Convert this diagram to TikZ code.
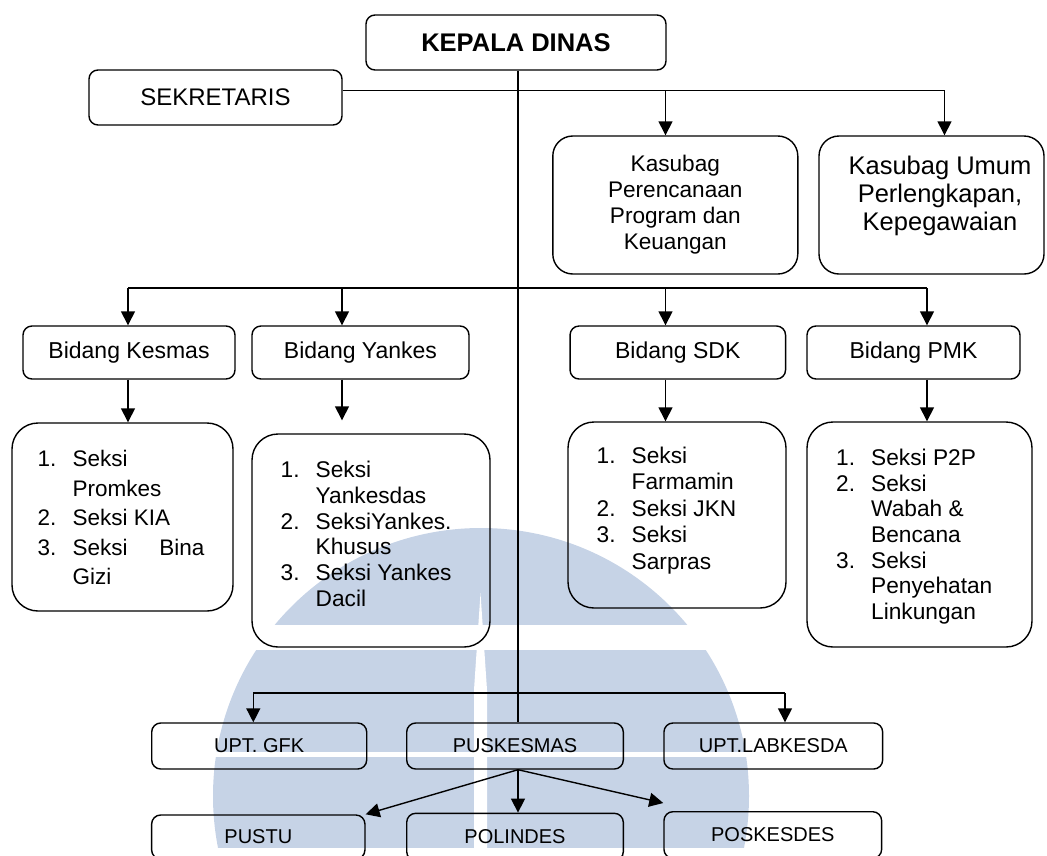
\documentclass[tikz,border=0pt]{standalone}
\usepackage{fontspec}
\setmainfont{Liberation Sans}
\usetikzlibrary{arrows.meta,calc}
\definecolor{wmblue}{RGB}{198,211,230}
% numbered list line: fixed-width number column, then the text
\newcommand\li[2]{\makebox[35pt][l]{#1}#2}

\begin{document}
\begin{tikzpicture}[x=1pt,y=-1pt,
  line width=1.4pt,
  box/.style={draw, rounded corners=9pt, inner sep=0pt},
  bigbox/.style={draw, rounded corners=20pt, inner sep=0pt},
  listbox/.style={draw, rounded corners=26pt, inner sep=0pt},
  listtext/.style={anchor=north west, inner sep=0pt, align=left},
  bidfont/.style={font=\fontsize{23}{27}\selectfont},
  uptfont/.style={font=\fontsize{20}{24}\selectfont},
  arr/.style={-{Triangle[length=14pt,width=14pt]}},
]
\useasboundingbox (0,0) rectangle (1047,855);
\clip (0,0) rectangle (1047,855);

% faint logo in the background
\begin{scope}
  \clip (481,796) circle[radius=268pt];
  \fill[wmblue] (150,528) rectangle (800,625);
  \fill[wmblue] (150,650) rectangle (800,752);
  \fill[wmblue] (150,757) rectangle (800,848);
\end{scope}
\fill[white] (480.5,593) -- (474,690) -- (474,855) -- (487,855) -- (487,690) -- cycle;

% top level
\node[box, minimum width=300pt, minimum height=55pt,
      font=\fontsize{25.5}{30}\selectfont\bfseries] (kepala) at (516,42.5) {KEPALA DINAS};
\node[box, minimum width=253pt, minimum height=55pt,
      font=\fontsize{24}{28}\selectfont] (sek) at (215.5,97.5) {SEKRETARIS};

% sub-sections under the secretary
\node[bigbox, minimum width=245pt, minimum height=138pt, align=center,
      font=\fontsize{22.6}{26}\selectfont] (kasper) at (675.3,205)
      {Kasubag\\Perencanaan\\Program dan\\Keuangan};
\node[bigbox, minimum width=225pt, minimum height=138pt] (kasum) at (931.5,205) {};
\node[align=center, inner sep=0pt, font=\fontsize{25.5}{28}\selectfont] (kasumtext) at (940,196)
      {Kasubag Umum\\Perlengkapan,\\Kepegawaian};

% divisions
\node[box, minimum width=212pt, minimum height=53pt, bidfont] (bkes) at (129,352.5) {Bidang Kesmas};
\node[box, minimum width=217pt, minimum height=53pt, bidfont] (byan) at (360.5,352.5) {Bidang Yankes};
\node[box, minimum width=215.5pt, minimum height=53pt, bidfont] (bsdk) at (677.8,352.5) {Bidang SDK};
\node[box, minimum width=213pt, minimum height=53pt, bidfont] (bpmk) at (913.5,352.5) {Bidang PMK};

% sections of each division
\node[listbox, minimum width=221pt, minimum height=188pt] (lkes) at (122.5,517) {};
\node[listtext, font=\fontsize{22.5}{29.5}\selectfont] (lkestext) at (37,449.5)
  {\li{1.}{Seksi}\\ \li{}{Promkes}\\ \li{2.}{Seksi KIA}\\
   \li{3.}{\makebox[131.8pt]{Seksi\hfill Bina}}\\ \li{}{Gizi}};

\node[listbox, minimum width=238pt, minimum height=213pt] (lyan) at (371,540.5) {};
\node[listtext, font=\fontsize{22.7}{25.7}\selectfont] (lyantext) at (280,460.5)
  {\li{1.}{Seksi}\\ \li{}{Yankesdas}\\ \li{2.}{SeksiYankes.}\\
   \li{}{Khusus}\\ \li{3.}{Seksi Yankes}\\ \li{}{Dacil}};

\node[listbox, minimum width=218pt, minimum height=186pt] (lsdk) at (677,515) {};
\node[listtext, font=\fontsize{22.7}{26.5}\selectfont] (lsdktext) at (596,446)
  {\li{1.}{Seksi}\\ \li{}{Farmamin}\\ \li{2.}{Seksi JKN}\\
   \li{3.}{Seksi}\\ \li{}{Sarpras}};

\node[listbox, minimum width=225pt, minimum height=225pt] (lpmk) at (919.5,534.5) {};
\node[listtext, font=\fontsize{22.7}{25.6}\selectfont] (lpmktext) at (835.5,448.5)
  {\li{1.}{Seksi P2P}\\ \li{2.}{Seksi}\\ \li{}{Wabah \&}\\ \li{}{Bencana}\\
   \li{3.}{Seksi}\\ \li{}{Penyehatan}\\ \li{}{Linkungan}};

% technical units
\node[box, minimum width=215pt, minimum height=46pt, uptfont] (gfk) at (259.2,746) {UPT. GFK};
\node[box, minimum width=216.6pt, minimum height=46pt, uptfont] (pusk) at (515,746) {PUSKESMAS};
\node[box, minimum width=218.7pt, minimum height=46pt, uptfont] (lab) at (773.3,746) {UPT.LABKESDA};

% units under the health centre
\node[box, minimum width=213.3pt, minimum height=44pt, uptfont] (pustu) at (258.3,837) {PUSTU};
\node[box, minimum width=216.6pt, minimum height=47.4pt, uptfont] (polin) at (515,837) {POLINDES};
\node[box, minimum width=217.7pt, minimum height=46.6pt, uptfont] (posk) at (772.8,835) {POSKESDES};

% connector junctions
\coordinate (mx) at (518,0);
\coordinate (d1) at (665.5,90.5);
\coordinate (sekbus) at (944.5,90.5);
\coordinate (b1) at (128,288);
\coordinate (b2) at (342,288);
\coordinate (b3) at (665.5,288);
\coordinate (b4) at (927,288);
\coordinate (u1) at (253.3,693);
\coordinate (u2) at (785,693);

% head of office down to the health centre
\draw (kepala.south -| mx) -- (pusk.north -| mx);

% secretary branch
\draw ([yshift=7pt]sek.east) -- (sekbus);
\draw[arr] (d1) -- (kasper.north -| d1);
\draw[arr] (sekbus) -- (kasum.north -| sekbus);

% division branch
\draw (b1) -- (b4);
\draw[arr] (b1) -- (bkes.north -| b1);
\draw[arr] (b2) -- (byan.north -| b2);
\draw[arr] (b3) -- (bsdk.north -| b3);
\draw[arr] (b4) -- (bpmk.north -| b4);
\draw[arr] (bkes.south -| b1) -- (lkes.north -| b1);
\draw[arr, shorten >=13pt] (byan.south -| b2) -- (lyan.north -| b2);
\draw[arr] (bsdk.south -| b3) -- (lsdk.north -| b3);
\draw[arr] (bpmk.south -| b4) -- (lpmk.north -| b4);

% technical units branch
\draw (u1) -- (u2);
\draw[arr] (u1) -- (gfk.north -| u1);
\draw[arr] (u2) -- (lab.north -| u2);

% from the health centre
\coordinate (pk) at (pusk.south -| mx);
\draw[arr] (pk) -- (pustu.north east);
\draw[arr] (pk) -- (polin.north -| mx);
\draw[arr] (pk) -- ([yshift=8pt]posk.north west);
\end{tikzpicture}
\end{document}
